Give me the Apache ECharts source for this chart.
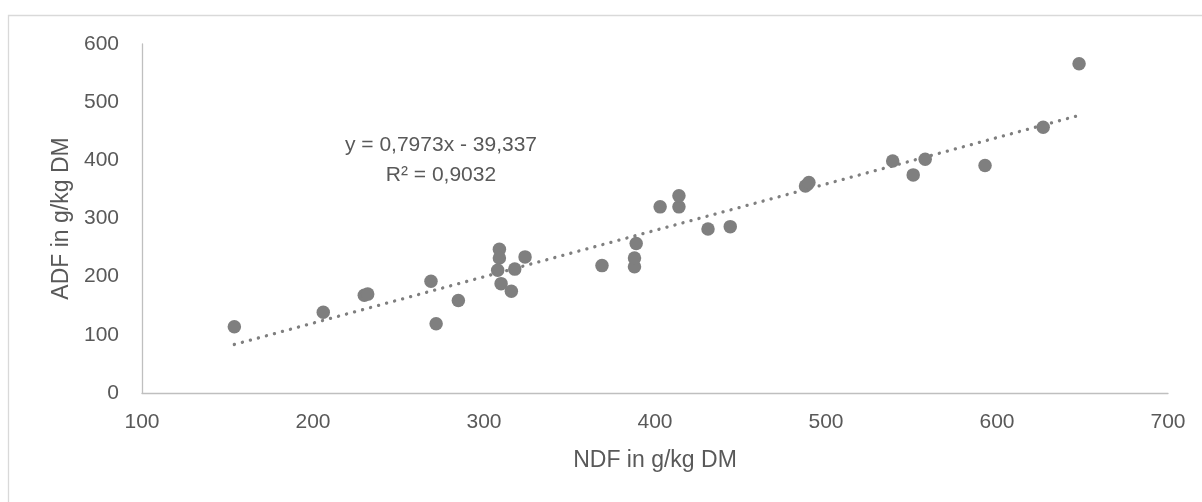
<!DOCTYPE html>
<html>
<head>
<meta charset="utf-8">
<script src="https://cdn.jsdelivr.net/npm/echarts@6/dist/echarts.min.js"></script>
<style>
html,body{margin:0;padding:0;background:#fff;}
#chart{width:1202px;height:502px;}
</style>
</head>
<body>
<div id="chart"></div>
<script>
// Data
var ndf = [154, 206, 230, 232, 269, 272, 285, 309, 309, 308, 310, 316, 318, 324, 369, 388, 388, 389, 403, 414, 414, 431, 444, 488, 490, 539, 551, 558, 593, 627, 648];
var adf = [114, 139, 168, 170, 192, 119, 159, 247, 232, 211, 188, 175, 213, 234, 219, 217, 232, 257, 320, 320, 339, 282, 286, 356, 362, 399, 375, 402, 391, 457, 566];
var trendCoef = [0.7973, -39.337];   // slope, intercept (from chart label)
var trendRange = [154, 648];         // trendline spans the data x range
var xTicks = [100, 200, 300, 400, 500, 600, 700];
var yTicks = [0, 100, 200, 300, 400, 500, 600];
var eqLines = ['y = 0,7973x - 39,337', 'R² = 0,9032'];
var xName = 'NDF in g/kg DM';
var yName = 'ADF in g/kg DM';

var points = ndf.map(function (x, i) { return [x, adf[i]]; });
var trend = trendRange.map(function (x) { return [x, trendCoef[0] * x + trendCoef[1]]; });

var FONT = '"Liberation Sans", Arial, sans-serif';
var chart = echarts.init(document.getElementById('chart'), null, {renderer: 'canvas'});
chart.setOption({
  animation: false,
  backgroundColor: '#ffffff',
  textStyle: {fontFamily: FONT},
  grid: {left: 142, right: 34, top: 44, bottom: 109, containLabel: false},
  xAxis: {
    type: 'value',
    min: xTicks[0], max: xTicks[xTicks.length - 1], interval: xTicks[1] - xTicks[0],
    name: xName, nameLocation: 'middle', nameGap: 56,
    nameTextStyle: {color: '#595959', fontSize: 23, fontFamily: FONT},
    axisLine: {show: true, lineStyle: {color: '#bfbfbf', width: 1.3}},
    axisTick: {show: false},
    splitLine: {show: false},
    axisLabel: {color: '#595959', fontSize: 21, fontFamily: FONT, margin: 19}
  },
  yAxis: {
    type: 'value',
    min: yTicks[0], max: yTicks[yTicks.length - 1], interval: yTicks[1] - yTicks[0],
    name: yName, nameLocation: 'middle', nameGap: 66, nameRotate: 90,
    nameTextStyle: {color: '#595959', fontSize: 23, fontFamily: FONT},
    axisLine: {show: true, lineStyle: {color: '#bfbfbf', width: 1.3}},
    axisTick: {show: false},
    splitLine: {show: false},
    axisLabel: {color: '#595959', fontSize: 21, fontFamily: FONT, margin: 23}
  },
  graphic: [
    {type: 'rect', silent: true, z: -10,
     shape: {x: 8.5, y: 15.5, width: 1300, height: 600},
     style: {fill: 'none', stroke: '#d9d9d9', lineWidth: 1.3}},
    {type: 'text', silent: true,
     x: 441, y: 145,
     style: {text: eqLines[0], fill: '#595959', font: '21px ' + FONT, textAlign: 'center', textVerticalAlign: 'middle'}},
    {type: 'text', silent: true,
     x: 441, y: 175,
     style: {text: eqLines[1], fill: '#595959', font: '21px ' + FONT, textAlign: 'center', textVerticalAlign: 'middle'}}
  ],
  series: [
    {
      type: 'line',
      data: trend,
      symbol: 'none',
      silent: true,
      z: 1,
      lineStyle: {color: '#7f7f7f', width: 3.3, type: [0.1, 8.2], cap: 'round'}
    },
    {
      type: 'scatter',
      data: points,
      symbol: 'circle',
      symbolSize: 13.5,
      z: 2,
      itemStyle: {color: '#7f7f7f', opacity: 1}
    }
  ]
});
</script>
</body>
</html>
